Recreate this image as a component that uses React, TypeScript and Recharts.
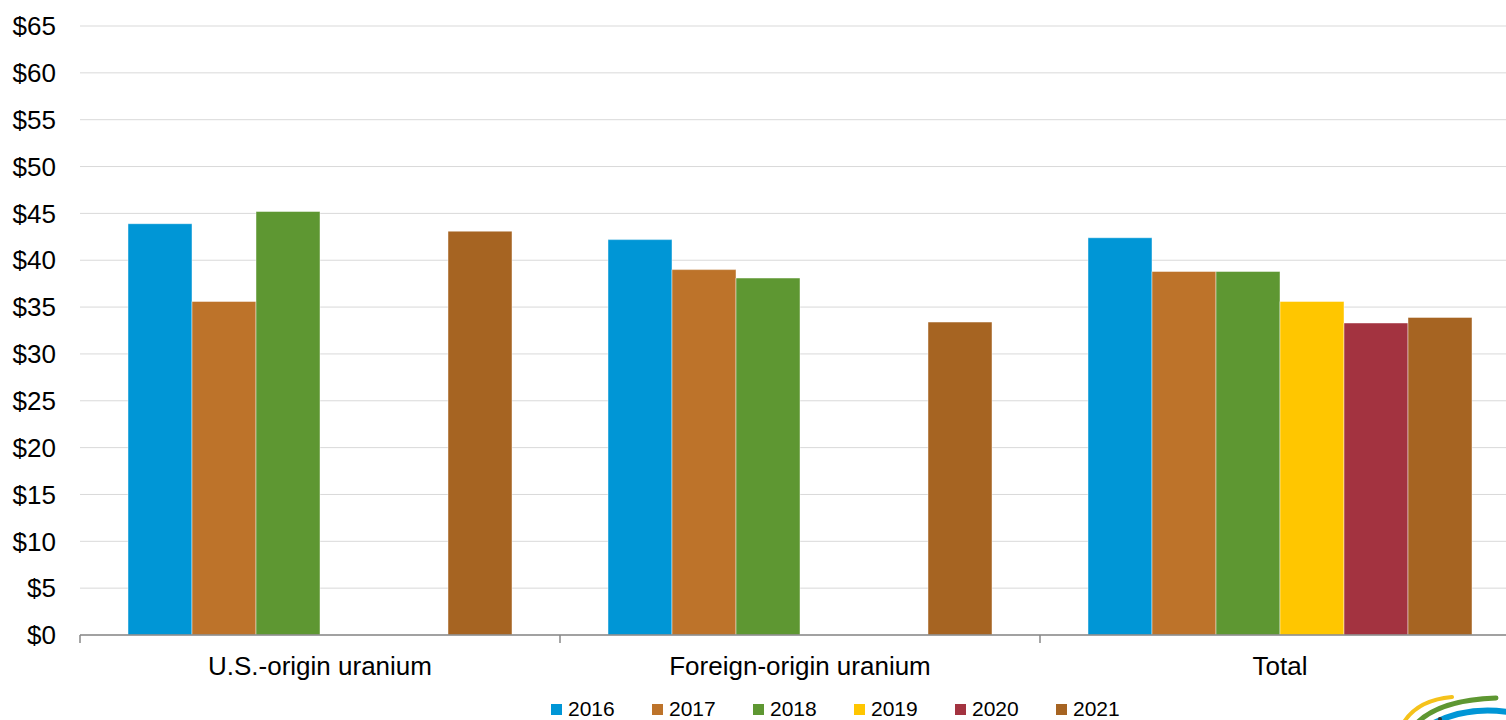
import React from "react";
import {
  BarChart,
  Bar,
  XAxis,
  YAxis,
  CartesianGrid,
  Legend,
} from "recharts";

const categories = ["U.S.-origin uranium", "Foreign-origin uranium", "Total"];
const years = ["2016", "2017", "2018", "2019", "2020", "2021"];
const colors = ["#0096D6", "#BD732A", "#5E9732", "#FFC600", "#A33340", "#A66422"];

const values2016 = [43.9, 42.2, 42.4];
const values2017 = [35.6, 39.0, 38.8];
const values2018 = [45.2, 38.1, 38.8];
const values2019 = [null, null, 35.6];
const values2020 = [null, null, 33.3];
const values2021 = [43.1, 33.4, 33.9];

const yTicks = [0, 5, 10, 15, 20, 25, 30, 35, 40, 45, 50, 55, 60, 65];

const seriesValues = [values2016, values2017, values2018, values2019, values2020, values2021];

const data = categories.map((name, i) => {
  const row: Record<string, string | number | null> = { name };
  years.forEach((y, k) => {
    row[y] = seriesValues[k][i];
  });
  return row;
});

const FONT = '"Liberation Sans", Arial, sans-serif';
const BAND = 480;

function CategoryTick(props: any) {
  const { x, y, payload, index } = props;
  const isLast = index === categories.length - 1;
  return (
    <g>
      <line x1={x - BAND / 2} y1={y} x2={x - BAND / 2} y2={y + 8} stroke="#898989" strokeWidth={1.5} />
      {isLast && (
        <line x1={x + BAND / 2} y1={y} x2={x + BAND / 2} y2={y + 8} stroke="#898989" strokeWidth={1.5} />
      )}
      <text x={x} y={y + 40} textAnchor="middle" fontSize={26} fill="#000" fontFamily={FONT}>
        {payload.value}
      </text>
    </g>
  );
}

function YearLegend() {
  return (
    <div style={{ display: "flex", fontFamily: FONT, fontSize: 21, lineHeight: "22px", color: "#000" }}>
      {years.map((y, k) => (
        <div key={y} style={{ display: "flex", alignItems: "center", width: 101 }}>
          <span style={{ display: "inline-block", width: 11, height: 11, background: colors[k], marginRight: 6 }} />
          <span>{y}</span>
        </div>
      ))}
    </div>
  );
}

export default function App() {
  return (
    <div
      style={{
        position: "absolute",
        left: 0,
        top: 0,
        width: 1506,
        height: 720,
        overflow: "hidden",
        background: "#fff",
      }}
    >
      <BarChart
        width={1520}
        height={720}
        data={data}
        margin={{ top: 26, right: 0, left: 0, bottom: 13 }}
        barCategoryGap="10%"
        barGap={0}
      >
        <CartesianGrid vertical={false} stroke="#d9d9d9" strokeWidth={1} />
        <XAxis
          dataKey="name"
          axisLine={{ stroke: "#898989", strokeWidth: 1.5 }}
          tickLine={false}
          tickSize={0}
          tickMargin={0}
          height={50}
          interval={0}
          tick={<CategoryTick />}
        />
        <YAxis
          width={80}
          domain={[0, 65]}
          ticks={yTicks}
          interval={0}
          axisLine={false}
          tickLine={false}
          tickMargin={18}
          tickFormatter={(v: number) => `$${v}`}
          tick={{ fontSize: 26, fill: "#000", fontFamily: FONT }}
        />
        <Legend
          content={<YearLegend />}
          wrapperStyle={{ position: "absolute", left: 551, top: 698, width: 640, height: 22 }}
        />
        {years.map((y, k) => (
          <Bar
            key={y}
            dataKey={y}
            fill={colors[k]}
            stroke="#ffffff"
            strokeOpacity={0.45}
            strokeWidth={1}
            isAnimationActive={false}
          />
        ))}
      </BarChart>
      <svg
        width={110}
        height={30}
        style={{ position: "absolute", left: 1396, top: 690 }}
      >
        <path d="M 8 32 Q 22 10 56 7" stroke="#F5C21B" strokeWidth={4} fill="none" strokeLinecap="round" />
        <path d="M 22 32 Q 45 10 100 8" stroke="#5E9732" strokeWidth={5} fill="none" strokeLinecap="round" />
        <path d="M 36 34 Q 70 16 112 22" stroke="#0096D6" strokeWidth={6} fill="none" strokeLinecap="round" />
        <circle cx={44} cy={29} r={2} fill="#333" />
      </svg>
    </div>
  );
}
